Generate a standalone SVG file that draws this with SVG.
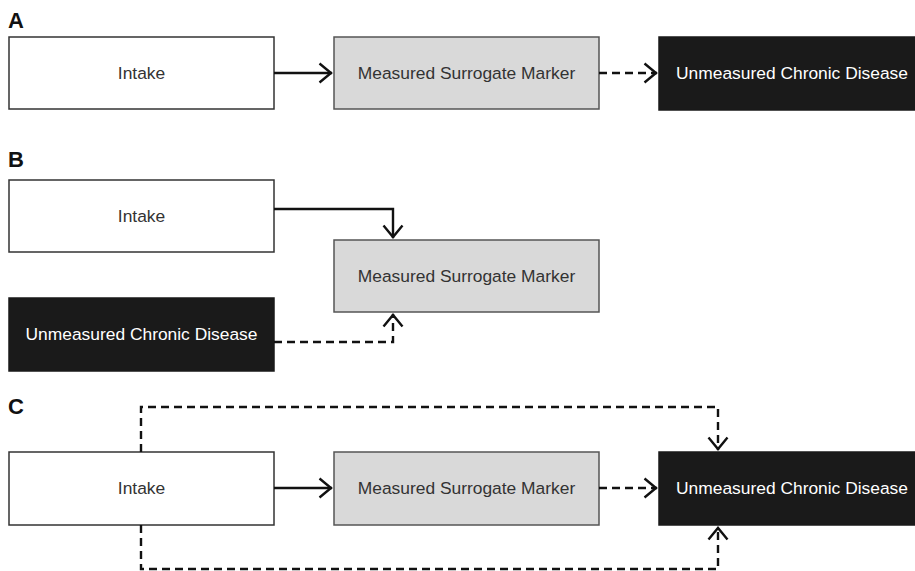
<svg xmlns="http://www.w3.org/2000/svg" width="915" height="571" viewBox="0 0 915 571">
<style>
.lbl{font-family:"Liberation Sans",Arial,sans-serif;font-weight:bold;font-size:22px;fill:#111}
.t{font-family:"Liberation Sans",Arial,sans-serif;font-size:17.4px;text-anchor:middle;dominant-baseline:central}
.white rect{fill:#fff;stroke:#333;stroke-width:1.5}
.white text{fill:#333}
.grey rect{fill:#d9d9d9;stroke:#555;stroke-width:1.5}
.grey text{fill:#333}
.black rect{fill:#1a1a1a;stroke:#1a1a1a;stroke-width:1.5}
.black text{fill:#fff}
.c{fill:none;stroke:#111;stroke-width:2.4}
.d{stroke-dasharray:8,5}
</style>
<defs>
<marker id="ah" viewBox="0 0 15 22" refX="14" refY="11" markerWidth="15" markerHeight="22" markerUnits="userSpaceOnUse" orient="auto">
<path d="M1.5,1.5 L13,11 L1.5,20.5" fill="none" stroke="#111" stroke-width="2.4"/>
</marker>
</defs>
<text class="lbl" x="8" y="28">A</text>
<text class="lbl" x="8" y="167">B</text>
<text class="lbl" x="8" y="414">C</text>
<g id="a-intake" class="white"><rect x="9" y="37" width="265" height="72"/><text class="t" x="141.5" y="73">Intake</text></g>
<g id="a-marker" class="grey"><rect x="334" y="37" width="265" height="72"/><text class="t" x="466.5" y="73">Measured Surrogate Marker</text></g>
<g id="a-disease" class="black"><rect x="659" y="37" width="258" height="73"/><text class="t" x="792" y="73">Unmeasured Chronic Disease</text></g>
<g id="b-intake" class="white"><rect x="9" y="180" width="265" height="72"/><text class="t" x="141.5" y="216">Intake</text></g>
<g id="b-marker" class="grey"><rect x="334" y="240" width="265" height="72"/><text class="t" x="466.5" y="276">Measured Surrogate Marker</text></g>
<g id="b-disease" class="black"><rect x="9" y="298" width="265" height="73"/><text class="t" x="141.5" y="334">Unmeasured Chronic Disease</text></g>
<g id="c-intake" class="white"><rect x="9" y="452" width="265" height="73"/><text class="t" x="141.5" y="488">Intake</text></g>
<g id="c-marker" class="grey"><rect x="334" y="452" width="265" height="73"/><text class="t" x="466.5" y="488">Measured Surrogate Marker</text></g>
<g id="c-disease" class="black"><rect x="659" y="452" width="258" height="73"/><text class="t" x="792" y="488">Unmeasured Chronic Disease</text></g>
<g id="connectors">
<path class="c" d="M274,73 H332" marker-end="url(#ah)"/>
<path class="c d" d="M599,73 H657" marker-end="url(#ah)"/>
<path class="c" d="M274,209 H393 V238" marker-end="url(#ah)"/>
<path class="c d" d="M274,342 H393 V314" marker-end="url(#ah)"/>
<path class="c" d="M274,488 H332" marker-end="url(#ah)"/>
<path class="c d" d="M599,488 H657" marker-end="url(#ah)"/>
<path class="c d" d="M141,452 V407 H718 V450" marker-end="url(#ah)"/>
<path class="c d" d="M141,525 V569 H718 V527" marker-end="url(#ah)"/>
</g>
</svg>
